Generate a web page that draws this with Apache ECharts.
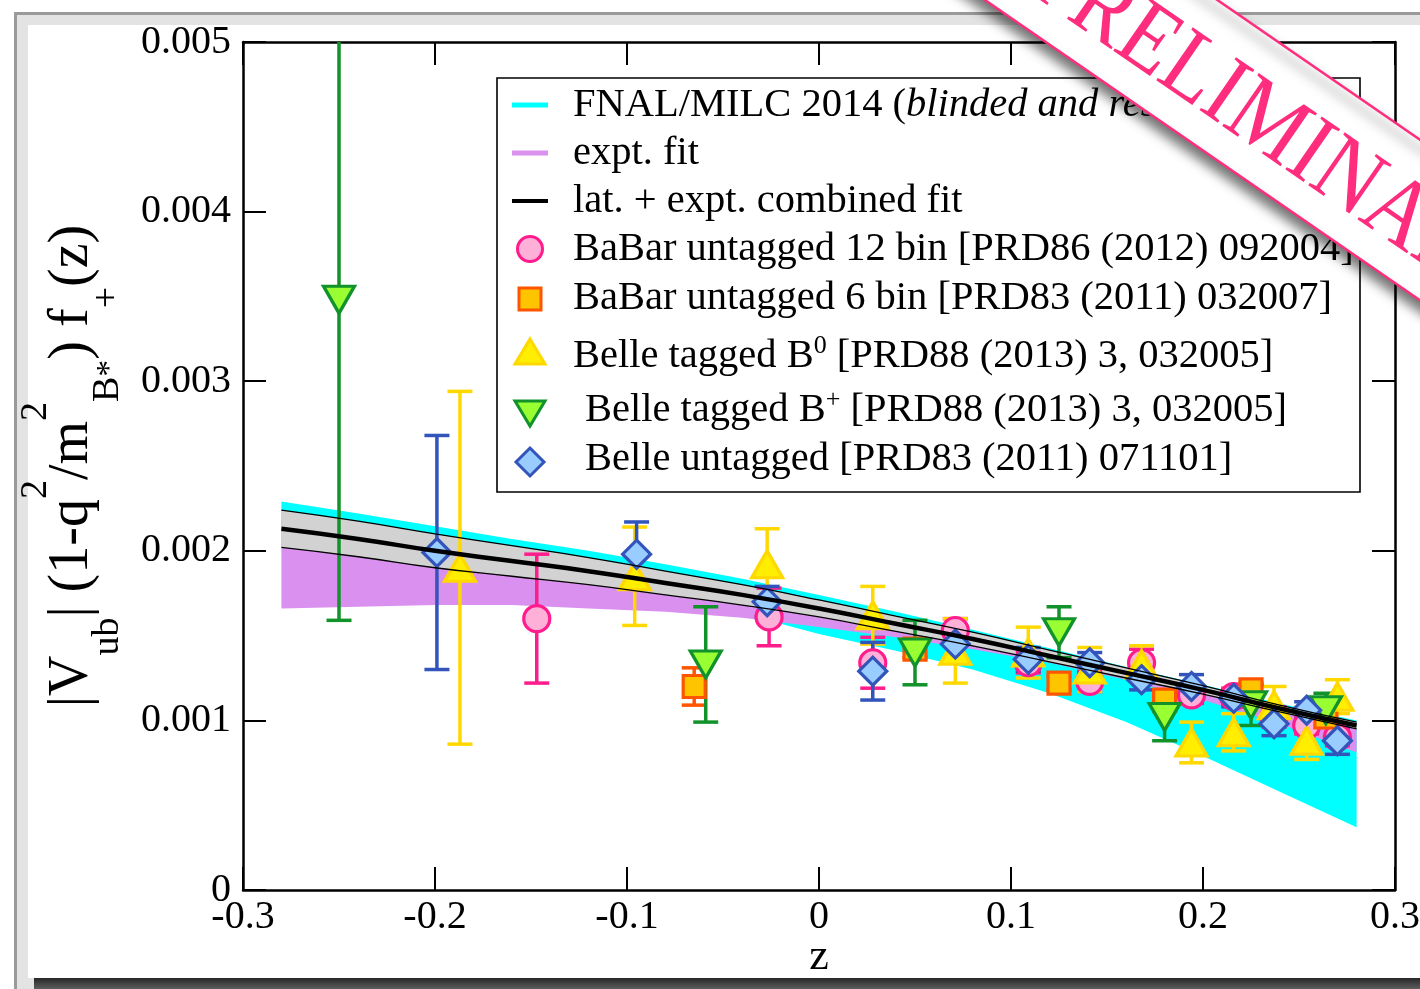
<!DOCTYPE html>
<html>
<head>
<meta charset="utf-8">
<title>|Vub| f+(z) fit</title>
<script src="https://cdn.jsdelivr.net/npm/echarts@6/dist/echarts.min.js"></script>
<style>
html,body{margin:0;padding:0;background:#fff;}
#main{width:1420px;height:989px;}
</style>
</head>
<body>
<div id="main"></div>
<script>
// z grid for the fit bands
var zGrid=[-0.28,-0.24,-0.2,-0.16,-0.12,-0.08,-0.04,0,0.04,0.08,0.12,0.16,0.2,0.24,0.28];
var fnalUpper=[0.00229,0.00222,0.002145,0.00207,0.00200,0.00192,0.001835,0.00174,0.00164,0.001535,0.001425,0.001315,0.00121,0.00110,0.00100];
var fnalLower=[0.00215,0.00208,0.00200,0.00192,0.00184,0.00174,0.00163,0.00151,0.00141,0.00130,0.00116,0.00099,0.00079,0.00058,0.00037];
var exptUpper=[0.00218,0.00211,0.00205,0.00199,0.00192,0.00185,0.00177,0.00169,0.00160,0.00150,0.00140,0.00130,0.00120,0.00109,0.00099];
var exptLower=[0.00166,0.00167,0.00168,0.00168,0.00166,0.00164,0.001605,0.00155,0.00149,0.00142,0.00134,0.00124,0.00112,0.00098,0.00081];
var fitCentral=[0.00213,0.00207,0.00200,0.00194,0.00188,0.00181,0.00174,0.00166,0.00157,0.00148,0.00138,0.00128,0.00118,0.00107,0.00097];
var fitUpper=[0.00224,0.002175,0.00210,0.00203,0.00196,0.00188,0.00180,0.00171,0.001615,0.00152,0.001415,0.00131,0.001205,0.00109,0.00099];
var fitLower=[0.00202,0.001965,0.00190,0.00185,0.00180,0.00174,0.00168,0.00161,0.001525,0.00144,0.001345,0.00125,0.001155,0.00105,0.00095];

// experimental points
var babar12Z=[-0.147,-0.026,0.028,0.071,0.109,0.141,0.168,0.194,0.216,0.237,0.254,0.27];
var babar12V=[0.00160,0.00161,0.00134,0.00153,0.00134,0.00123,0.00134,0.00115,0.00114,0.00102,0.00097,0.00090];
var babar12E=[0.00038,0.00017,0.00015,0.00007,0.00006,0.00006,0.00008,0.00005,0.00005,0.00006,0.00005,0.00005];

var babar6Z=[-0.065,0.05,0.125,0.18,0.225,0.264];
var babar6V=[0.00120,0.00142,0.00122,0.00112,0.00118,0.00102];
var babar6E=[0.00011,0.00005,0.00004,0.00004,0.00004,0.00004];

var belleB0Z=[-0.187,-0.096,-0.027,0.028,0.071,0.109,0.141,0.168,0.194,0.216,0.237,0.254,0.27];
var belleB0V=[0.00190,0.00185,0.00192,0.00162,0.00141,0.00140,0.00130,0.00133,0.00087,0.00093,0.00109,0.00088,0.00114];
var belleB0E=[0.00104,0.00029,0.00021,0.00017,0.00019,0.00015,0.00013,0.00011,0.00012,0.00011,0.00011,0.00011,0.00010];

var belleBpZ=[-0.25,-0.059,0.05,0.125,0.18,0.225,0.264];
var belleBpV=[0.00348,0.00133,0.00140,0.00152,0.00102,0.00109,0.00106];
var belleBpE=[0.00189,0.00034,0.00019,0.00015,0.00014,0.00012,0.00010];

var belleUnZ=[-0.199,-0.095,-0.027,0.028,0.071,0.109,0.141,0.168,0.194,0.216,0.237,0.254,0.27];
var belleUnV=[0.00199,0.00198,0.00170,0.00129,0.00145,0.00136,0.00134,0.00124,0.00120,0.00113,0.00098,0.00106,0.00088];
var belleUnE=[0.00069,0.00019,0.00009,0.00017,0.00009,0.00007,0.00006,0.00006,0.00007,0.00005,0.00007,0.00005,0.00008];

var serif='"Liberation Serif","Times New Roman",serif';
var pink='#ff2d7d';

function zip(z,v,e){
	var out=[];
	for(var i=0;i<z.length;i++){ out.push(e?[z[i],v[i],e[i]]:[z[i],v[i]]); }
	return out;
}
function bandSeries(upper,lower,color){
	return {
		type:'custom',silent:true,clip:true,data:[0],
		renderItem:function(params,api){
			var pts=[],i;
			for(i=0;i<zGrid.length;i++){ pts.push(api.coord([zGrid[i],upper[i]])); }
			for(i=zGrid.length-1;i>=0;i--){ pts.push(api.coord([zGrid[i],lower[i]])); }
			return {type:'polygon',shape:{points:pts},style:{fill:color}};
		}
	};
}
function curveSeries(vals,width){
	return {type:'line',silent:true,data:zip(zGrid,vals),showSymbol:false,smooth:true,
		lineStyle:{color:'#000',width:width},emphasis:{disabled:true}};
}
function errSeries(z,v,e,color){
	return {
		type:'custom',silent:true,clip:true,data:zip(z,v,e),
		encode:{x:0,y:1},
		renderItem:function(params,api){
			var x=api.value(0),y=api.value(1),d=api.value(2);
			var t=api.coord([x,y+d]),b=api.coord([x,y-d]),w=12.5;
			var st={stroke:color,lineWidth:3.5};
			return {type:'group',children:[
				{type:'line',shape:{x1:t[0],y1:t[1],x2:b[0],y2:b[1]},style:st},
				{type:'line',shape:{x1:t[0]-w,y1:t[1],x2:t[0]+w,y2:t[1]},style:st},
				{type:'line',shape:{x1:b[0]-w,y1:b[1],x2:b[0]+w,y2:b[1]},style:st}
			]};
		}
	};
}
function markSeries(z,v,symbol,size,fill,edge,rot){
	return {type:'scatter',silent:true,data:zip(z,v),symbol:symbol,symbolSize:size,symbolRotate:rot||0,
		itemStyle:{color:fill,borderColor:edge,borderWidth:3.2,opacity:1},emphasis:{disabled:true}};
}

var axisCommon={
	type:'value',
	axisLine:{show:true,onZero:false,lineStyle:{color:'#000',width:2.5}},
	axisTick:{show:true,inside:true,length:23,lineStyle:{color:'#000',width:2}},
	splitLine:{show:false}
};
function axis(extra){ return Object.assign({},axisCommon,extra); }

var legendX=573;
var graphics=[
	// slide frame
	{type:'rect',z:-20,shape:{x:15.5,y:13.5,width:1440,height:990},style:{fill:'#e3e3e3',stroke:'#9a9a9a',lineWidth:3}},
	{type:'rect',z:-19,shape:{x:28,y:25,width:1420,height:953},style:{fill:'#fff'}},
	{type:'rect',z:-19,shape:{x:34,y:978,width:1420,height:11},style:{fill:new echarts.graphic.LinearGradient(0,0,0,1,[{offset:0,color:'#262626'},{offset:1,color:'#5e5e5e'}])}},
	// legend box
	{type:'rect',z:10,shape:{x:497,y:78,width:863,height:414},style:{fill:'#fff',stroke:'#000',lineWidth:1.6}},
	{type:'line',z:11,shape:{x1:512,y1:105,x2:548,y2:105},style:{stroke:'#00ffff',lineWidth:5}},
	{type:'line',z:11,shape:{x1:512,y1:153,x2:548,y2:153},style:{stroke:'#d990ee',lineWidth:5}},
	{type:'line',z:11,shape:{x1:512,y1:201,x2:548,y2:201},style:{stroke:'#000',lineWidth:4}},
	{type:'circle',z:11,shape:{cx:530,cy:249,r:12.5},style:{fill:'#ffb0d8',stroke:'#ff1c8c',lineWidth:3}},
	{type:'rect',z:11,shape:{x:519,y:288,width:22,height:22},style:{fill:'#ffc400',stroke:'#ff5500',lineWidth:3}},
	{type:'polygon',z:11,shape:{points:[[530,339],[545,364],[515,364]]},style:{fill:'#ffee00',stroke:'#ffd800',lineWidth:3}},
	{type:'polygon',z:11,shape:{points:[[515,401],[545,401],[530,426]]},style:{fill:'#99ff33',stroke:'#11922a',lineWidth:3}},
	{type:'polygon',z:11,shape:{points:[[530,448],[544,462],[530,476],[516,462]]},style:{fill:'#99ccff',stroke:'#3355bb',lineWidth:3}}
];
var legendText=[
	[105,'FNAL/MILC 2014 ({it|blinded and rescaled})',legendX],
	[153,'expt. fit',legendX],
	[201,'lat. + expt. combined fit',legendX],
	[249,'BaBar untagged 12 bin [PRD86 (2012) 092004]',legendX],
	[298,'BaBar untagged 6 bin [PRD83 (2011) 032007]',legendX],
	[356,'Belle tagged B{sup|0} [PRD88 (2013) 3, 032005]',legendX],
	[410,'Belle tagged B{sup|+} [PRD88 (2013) 3, 032005]',legendX+12],
	[459,'Belle untagged [PRD83 (2011) 071101]',legendX+12]
];
legendText.forEach(function(r){
	graphics.push({type:'text',z:11,x:r[2],y:r[0],style:{
		text:r[1],fontSize:40.5,fontFamily:serif,fill:'#000',align:'left',verticalAlign:'middle',lineHeight:46,
		rich:{
			it:{fontSize:40.5,fontFamily:serif,fontStyle:'italic',fill:'#000'},
			sup:{fontSize:26,fontFamily:serif,fill:'#000',verticalAlign:'top',lineHeight:22}
		}
	}});
});
// PRELIMINARY banner
graphics.push({type:'group',x:1283,y:125.5,rotation:-0.604,z:30,children:[
	{type:'rect',z:30,shape:{x:-800,y:-66,width:1600,height:132},
		style:{fill:'#fff',stroke:pink,lineWidth:2.5,shadowBlur:12,shadowOffsetX:-4,shadowOffsetY:7,shadowColor:'rgba(0,0,0,0.55)'}},
	{type:'text',z:31,x:0,y:9,scaleX:0.87,style:{text:'PRELIMINARY',fontSize:98,fontFamily:serif,fill:pink,align:'center',verticalAlign:'middle'}}
]});

var chart=echarts.init(document.getElementById('main'));
var option={
	animation:false,
	backgroundColor:'#fff',
	grid:{left:243,right:25,top:42,bottom:99,containLabel:false,outerBoundsMode:'none'},
	xAxis:[
		axis({min:-0.3,max:0.3,interval:0.1,position:'bottom',
			axisLabel:{fontFamily:serif,fontSize:40,color:'#000',margin:7},
			name:'z',nameLocation:'middle',nameGap:45,nameMoveOverlap:false,
			nameTextStyle:{fontFamily:serif,fontSize:44,color:'#000'}}),
		axis({min:-0.3,max:0.3,interval:0.1,position:'top',axisLabel:{show:false}})
	],
	yAxis:[
		axis({min:0,max:0.005,interval:0.001,position:'left',
			axisLabel:{fontFamily:serif,fontSize:40,color:'#000',margin:12},
			name:'{m||V}{sub|ub}{m|| (1-q}{sup|2}{m|/m}{sup|2}{sub|B}{star|*}{m|) f}{sub|+}{m|(z)}',
			nameLocation:'middle',nameRotate:90,nameGap:116,nameMoveOverlap:false,
			nameTextStyle:{fontFamily:serif,fontSize:56,color:'#000',rich:{
				m:{fontFamily:serif,fontSize:56,lineHeight:110,color:'#000'},
				sub:{fontFamily:serif,fontSize:38,lineHeight:40,verticalAlign:'bottom',color:'#000'},
				sup:{fontFamily:serif,fontSize:38,lineHeight:52,verticalAlign:'top',color:'#000'},
				star:{fontFamily:serif,fontSize:34,lineHeight:65,verticalAlign:'bottom',color:'#000'}
			}}}),
		axis({min:0,max:0.005,interval:0.001,position:'right',axisLabel:{show:false}})
	],
	graphic:{elements:graphics},
	series:[
		bandSeries(fnalUpper,fnalLower,'#00ffff'),
		bandSeries(exptUpper,exptLower,'#d990ee'),
		bandSeries(fitUpper,fitLower,'#d2d2d2'),
		curveSeries(fitUpper,1.3),
		curveSeries(fitLower,1.3),
		curveSeries(fitCentral,4.5),
		errSeries(babar12Z,babar12V,babar12E,'#ff1c8c'),
		markSeries(babar12Z,babar12V,'circle',26,'#ffb0d8','#ff1c8c'),
		errSeries(babar6Z,babar6V,babar6E,'#ff5500'),
		markSeries(babar6Z,babar6V,'rect',22,'#ffc400','#ff5500'),
		errSeries(belleB0Z,belleB0V,belleB0E,'#ffd800'),
		markSeries(belleB0Z,belleB0V,'triangle',[31,27],'#ffee00','#ffd800'),
		errSeries(belleBpZ,belleBpV,belleBpE,'#11922a'),
		markSeries(belleBpZ,belleBpV,'triangle',[31,27],'#99ff33','#11922a',180),
		errSeries(belleUnZ,belleUnV,belleUnE,'#3355bb'),
		markSeries(belleUnZ,belleUnV,'diamond',[28,28],'#99ccff','#3355bb')
	]
};
chart.setOption(option);
</script>
</body>
</html>
